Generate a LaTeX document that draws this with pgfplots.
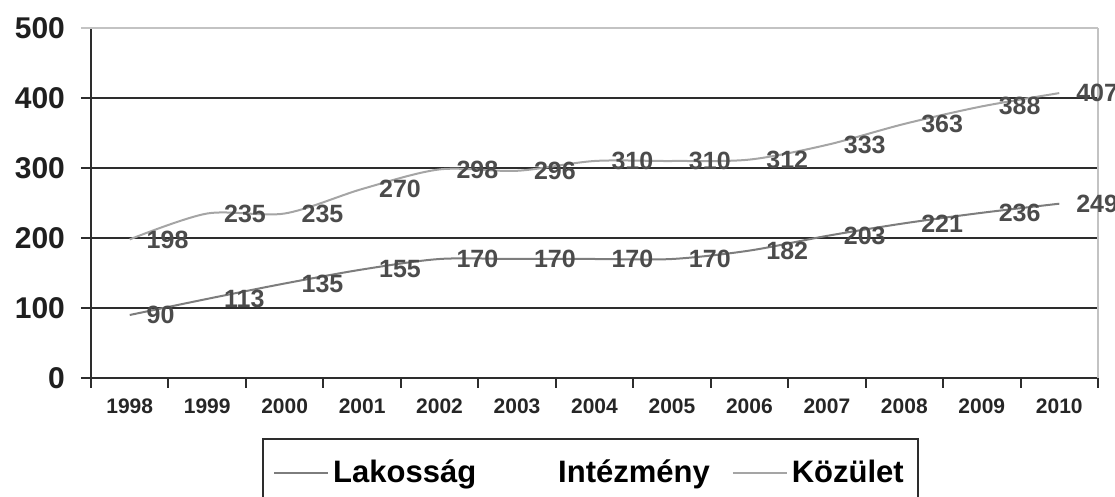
\documentclass[border=0pt]{standalone}
\usepackage{fontspec}
\setmainfont{Liberation Sans}
\usepackage{pgfplots}
\pgfplotsset{compat=1.18}
\definecolor{gridc}{RGB}{45,45,45}
\definecolor{lineA}{RGB}{125,125,125}
\definecolor{lineB}{RGB}{165,165,165}
\definecolor{lbl}{RGB}{75,75,75}
\definecolor{lightc}{RGB}{195,195,195}
\begin{document}
\begin{tikzpicture}
\begin{axis}[
  scale only axis, width=503.5pt, height=175pt,
  at={(0,0)}, anchor=south west,
  xmin=-0.5, xmax=12.5, ymin=0, ymax=500,
  clip=false,
  /pgf/number format/assume math mode=true,
  axis lines=left, axis line style={-, draw=gridc, line width=1pt},
  xtick={-0.5,0.5,...,12.5}, xticklabels={},
  extra x ticks={0,1,2,3,4,5,6,7,8,9,10,11,12},
  extra x tick labels={1998,1999,2000,2001,2002,2003,2004,2005,2006,2007,2008,2009,2010},
  extra x tick style={grid=none, major tick length=0pt,
    tick label style={font=\fontsize{10.5}{10.5}\selectfont\bfseries, text=black!85, yshift=-7pt}},
  ytick={0,100,200,300,400},
  extra y ticks={500},
  extra y tick style={grid=major, major grid style={draw=lightc, line width=0.7pt}, tick style={draw=lightc}},
  ymajorgrids, major grid style={draw=gridc, line width=1pt},
  tick align=outside, major tick length=5pt,
  tick style={draw=gridc, line width=1pt},
  yticklabel style={font=\fontsize{15}{15}\selectfont\bfseries, text=black!88, xshift=-4.5pt},
  every node near coord/.append style={anchor=west, xshift=8pt, inner sep=0pt,
    font=\fontsize{12.5}{12.5}\selectfont\bfseries, text=lbl},
  legend columns=3,
  legend style={at={(0.5,0)}, anchor=north, xshift=-2pt, yshift=-30pt,
    draw=gridc, line width=1pt, font=\fontsize{15.5}{15.5}\selectfont\bfseries,
    /tikz/every even column/.append style={column sep=9pt},
    inner xsep=5pt, inner ysep=8.5pt},
  legend image code/.code={\draw[#1, line width=1pt] (0pt,0pt) -- (27pt,0pt);},
]
\addplot[lineA, line width=1pt, smooth, mark=none, nodes near coords] coordinates {
 (0,90) (1,113) (2,135) (3,155) (4,170) (5,170) (6,170) (7,170) (8,182) (9,203) (10,221) (11,236) (12,249)};
\addlegendentry{Lakosság}
\addlegendimage{white}
\addlegendentry{Intézmény}
\addplot[lineB, line width=1pt, smooth, mark=none, nodes near coords] coordinates {
 (0,198) (1,235) (2,235) (3,270) (4,298) (5,296) (6,310) (7,310) (8,312) (9,333) (10,363) (11,388) (12,407)};
\addlegendentry{Közület}
\draw[lightc, line width=0.7pt] (rel axis cs:1,0) -- (rel axis cs:1,1);
\end{axis}
\pgfresetboundingbox
\path[use as bounding box] (-45.5pt,-59.5pt) rectangle (512pt,189pt);
\end{tikzpicture}
\end{document}
